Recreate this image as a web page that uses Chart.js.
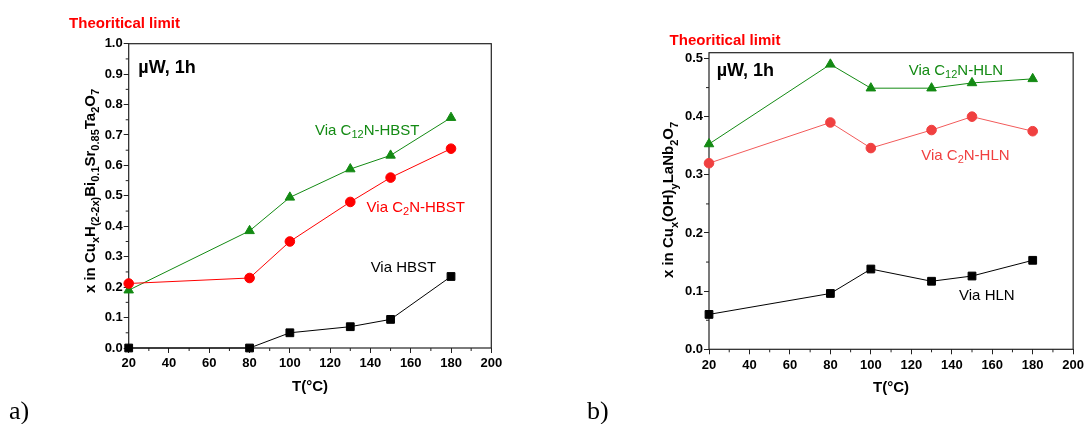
<!DOCTYPE html>
<html>
<head>
<meta charset="utf-8">
<script src="https://cdn.jsdelivr.net/npm/chart.js@4.4.1/dist/chart.umd.min.js"></script>
<style>
  body { margin: 0; background: #fff; }
  .wrap { position: absolute; top: 0; }
</style>
</head>
<body>
<div class="wrap" style="left:0"><canvas id="chartA" width="580" height="424"></canvas></div>
<div class="wrap" style="left:580px"><canvas id="chartB" width="507" height="424"></canvas></div>
<script>
const temps = [20, 80, 100, 130, 150, 180];

// a) HBST
const hbst = [0, 0, 0.05, 0.07, 0.094, 0.235];
const c2nHbst = [0.212, 0.23, 0.35, 0.48, 0.56, 0.655];
const c12nHbst = [0.19, 0.385, 0.495, 0.588, 0.633, 0.757];

// b) HLN
const hln = [0.06, 0.096, 0.138, 0.117, 0.126, 0.153];
const c2nHln = [0.32, 0.39, 0.346, 0.377, 0.4, 0.375];
const c12nHln = [0.353, 0.49, 0.449, 0.449, 0.458, 0.465];

const xTicks = [20, 40, 60, 80, 100, 120, 140, 160, 180, 200];
const yTicksA = [0, 0.1, 0.2, 0.3, 0.4, 0.5, 0.6, 0.7, 0.8, 0.9, 1.0];
const yTicksB = [0, 0.1, 0.2, 0.3, 0.4, 0.5];

const GREEN = "#138a13";
const RED = "#ff0000";
const RED_B = "#f04040";
const AXIS = "#222";
const FONT = "'Liberation Sans', Arial, sans-serif";

function pts(vals) {
    return temps.map((t, i) => ({ x: t, y: vals[i] }));
}

function series(vals, color, shape, size, lineColor) {
    return {
        data: pts(vals),
        borderColor: lineColor || color,
        backgroundColor: color,
        pointBorderColor: color,
        pointStyle: shape,
        pointRadius: size,
        pointHoverRadius: size,
        borderWidth: 1,
        clip: false,
    };
}

// rich text with subscripts: parts = [[text, isSub], ...]
function drawRich(ctx, parts, x, y, size, weight, center) {
    const main = weight + " " + size + "px " + FONT;
    const sub = weight + " " + Math.round(size * 0.7) + "px " + FONT;
    if (center) {
        let total = 0;
        parts.forEach(p => {
            ctx.font = p[1] ? sub : main;
            total += ctx.measureText(p[0]).width;
        });
        x -= total / 2;
    }
    parts.forEach(p => {
        ctx.font = p[1] ? sub : main;
        ctx.fillText(p[0], x, y + (p[1] ? size * 0.3 : 0));
        x += ctx.measureText(p[0]).width;
    });
}

const decor = {
    id: "decor",
    beforeDatasetsDraw(chart, args, opts) {
        const ctx = chart.ctx;
        const a = chart.chartArea;
        const xs = chart.scales.x, ys = chart.scales.y;
        ctx.save();
        ctx.strokeStyle = AXIS;
        ctx.lineWidth = 1.2;
        ctx.strokeRect(a.left, a.top, a.right - a.left, a.bottom - a.top);
        // minor ticks
        ctx.lineWidth = 1;
        ctx.beginPath();
        for (let v = 30; v < 200; v += 20) {
            const px = xs.getPixelForValue(v);
            ctx.moveTo(px, a.bottom);
            ctx.lineTo(px, a.bottom + 3);
        }
        for (let v = 0.05; v < opts.yMax; v += 0.1) {
            const py = ys.getPixelForValue(v);
            ctx.moveTo(a.left, py);
            ctx.lineTo(a.left - 3, py);
        }
        ctx.stroke();
        ctx.restore();
    },
    afterDraw(chart, args, opts) {
        const ctx = chart.ctx;
        const a = chart.chartArea;
        const xs = chart.scales.x, ys = chart.scales.y;
        ctx.save();
        ctx.textBaseline = "middle";
        ctx.textAlign = "left";
        opts.labels.forEach(l => {
            const px = xs.getPixelForValue(l.x);
            const py = ys.getPixelForValue(l.y);
            ctx.fillStyle = l.color;
            const w = l.bold ? "bold" : "normal";
            if (l.parts) {
                drawRich(ctx, l.parts, px, py, l.size, w, false);
            } else {
                ctx.font = w + " " + l.size + "px " + FONT;
                ctx.fillText(l.text, px, py);
            }
        });
        // x title
        ctx.fillStyle = "#000";
        ctx.textAlign = "center";
        ctx.font = "bold 15px " + FONT;
        ctx.fillText("T(°C)", (a.left + a.right) / 2, a.bottom + 39);
        // y title
        ctx.save();
        ctx.translate(a.left + opts.yTitleDx, opts.yTitleCy);
        ctx.rotate(-Math.PI / 2);
        ctx.textAlign = "left";
        ctx.textBaseline = "alphabetic";
        drawRich(ctx, opts.yTitle, 0, 0, 15, "bold", true);
        ctx.restore();
        // panel letter
        ctx.textAlign = "left";
        ctx.textBaseline = "alphabetic";
        ctx.font = "26px 'Liberation Serif', 'Times New Roman', serif";
        ctx.fillText(opts.panel, opts.panelX, 419);
        ctx.restore();
    }
};

function makeOptions(yMax, yTicks, pad, decorOpts) {
    const tickFont = { family: FONT, size: 13, weight: "bold" };
    return {
        responsive: false,
        animation: false,
        events: [],
        layout: { padding: pad, autoPadding: false },
        plugins: { legend: { display: false }, tooltip: { enabled: false }, decor: decorOpts },
        scales: {
            x: {
                type: "linear",
                min: 20,
                max: 200,
                afterBuildTicks: s => { s.ticks = xTicks.map(v => ({ value: v })); },
                afterFit: s => { s.height = 30; },
                grid: { drawOnChartArea: false, drawTicks: true, tickLength: 5, tickColor: AXIS, tickWidth: 1 },
                border: { display: false },
                ticks: { color: "#000", font: tickFont, padding: 3, maxRotation: 0, autoSkip: false },
            },
            y: {
                min: 0,
                max: yMax,
                afterBuildTicks: s => { s.ticks = yTicks.map(v => ({ value: v })); },
                afterFit: s => { s.width = 40; },
                grid: { drawOnChartArea: false, drawTicks: true, tickLength: 5, tickColor: AXIS, tickWidth: 1 },
                border: { display: false },
                ticks: { color: "#000", font: tickFont, padding: 1, autoSkip: false, callback: v => v.toFixed(1) },
            },
        },
    };
}

new Chart(document.querySelector("#chartA"), {
    type: "line",
    plugins: [decor],
    data: {
        datasets: [
            series(hbst, "#000", "rect", 5.5),
            series(c2nHbst, RED, "circle", 4.8),
            series(c12nHbst, GREEN, "triangle", 5.5),
        ],
    },
    options: makeOptions(1.0, yTicksA, { left: 88.7, right: 88.7, top: 43.7, bottom: 46 }, {
        yMax: 1.0,
        yTitleDx: -34,
        yTitleCy: 191,
        panel: "a)",
        panelX: 9,
        yTitle: [["x in Cu", 0], ["x", 1], ["H", 0], ["(2-2x)", 1], ["Bi", 0], ["0.1", 1], ["Sr", 0], ["0.85", 1], ["Ta", 0], ["2", 1], ["O", 0], ["7", 1]],
        labels: [
            { text: "Theoritical limit", x: -9.6, y: 1.065, color: RED, size: 15, bold: true },
            { text: "µW, 1h", x: 24.8, y: 0.919, color: "#000", size: 18, bold: true },
            { parts: [["Via C", 0], ["12", 1], ["N-HBST", 0]], x: 112.5, y: 0.714, color: GREEN, size: 15 },
            { parts: [["Via C", 0], ["2", 1], ["N-HBST", 0]], x: 138.1, y: 0.462, color: RED, size: 15 },
            { text: "Via HBST", x: 140.1, y: 0.262, color: "#000", size: 15 },
        ],
    }),
});

new Chart(document.querySelector("#chartB"), {
    type: "line",
    plugins: [decor],
    data: {
        datasets: [
            series(hln, "#000", "rect", 5.5),
            series(c2nHln, RED_B, "circle", 4.8, "#f25a5a"),
            series(c12nHln, GREEN, "triangle", 5.5),
        ],
    },
    options: makeOptions(0.51, yTicksB, { left: 89, right: 11.3, top: 52.7, bottom: 44.7 }, {
        yMax: 0.51,
        yTitleDx: -36,
        yTitleCy: 200,
        panel: "b)",
        panelX: 7,
        yTitle: [["x in Cu", 0], ["x", 1], ["(OH)", 0], ["y", 1], ["LaNb", 0], ["2", 1], ["O", 0], ["7", 1]],
        labels: [
            { text: "Theoritical limit", x: 0.5, y: 0.531, color: RED, size: 15, bold: true },
            { text: "µW, 1h", x: 23.8, y: 0.478, color: "#000", size: 18, bold: true },
            { parts: [["Via C", 0], ["12", 1], ["N-HLN", 0]], x: 118.7, y: 0.479, color: GREEN, size: 15 },
            { parts: [["Via C", 0], ["2", 1], ["N-HLN", 0]], x: 124.9, y: 0.333, color: RED_B, size: 15 },
            { text: "Via HLN", x: 143.6, y: 0.092, color: "#000", size: 15 },
        ],
    }),
});
</script>
</body>
</html>
